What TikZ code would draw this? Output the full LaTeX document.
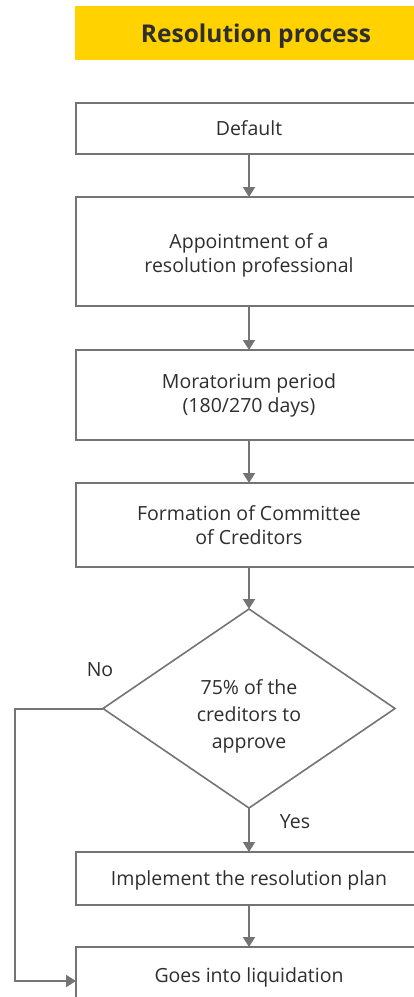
\documentclass[tikz,border=0pt]{standalone}
\usepackage{fontspec}
\setmainfont{Open Sans}
\usepackage{xcolor}
\definecolor{cYellow}{HTML}{FFD200}
\definecolor{cLine}{HTML}{747474}
\definecolor{cText}{HTML}{2E2E2E}
\usetikzlibrary{positioning,arrows.meta,shapes.geometric}
\tikzset{
  node-title/.style={fill=cYellow,minimum width=362pt,minimum height=54pt,
    text depth=0pt,font=\fontsize{24.5}{30}\selectfont\bfseries,text=cText},
  node-box/.style={draw=cLine,line width=1.6pt,fill=white,minimum width=346pt,
    outer sep=0pt,align=center,font=\fontsize{19.5}{24}\selectfont,text=cText},
  node-decision/.style={diamond,draw=cLine,line width=1.6pt,fill=white,
    minimum width=292pt,minimum height=199pt,inner sep=0pt,outer sep=0pt,
    align=center,font=\fontsize{19.5}{27}\selectfont,text=cText},
  node-label/.style={font=\fontsize{19.5}{22}\selectfont,text=cText},
  arrow/.style={-{Triangle[length=10pt,width=12pt]},line width=2pt,draw=cLine},
}
\begin{document}
\begin{tikzpicture}[x=1pt,y=1pt,node distance=43pt]
  \useasboundingbox (0,0) rectangle (414,-997);
  \clip (0,0) rectangle (414,-997);
  \node[node-title] (title) at (256,-33) {Resolution process};
  \node[node-box,minimum height=51pt,text depth=0pt] (default) at (249,-128.5) {Default};
  \node[node-box,minimum height=109pt,text height=47pt,below=of default] (appoint)
    {Appointment of a\\resolution professional};
  \node[node-box,minimum height=90pt,below=44pt of appoint] (morat)
    {Moratorium period\\(180/270 days)};
  \node[node-box,minimum height=84pt,below=of morat] (coc)
    {Formation of Committee\\of Creditors};
  \node[node-decision,text height=85pt,below=42pt of coc] (approve)
    {75\% of the\\creditors to\\approve};
  \node[node-box,minimum height=53pt,text depth=0pt,below=44pt of approve] (plan)
    {Implement the resolution plan};
  \node[node-box,minimum height=56pt,text depth=0pt,below=42pt of plan] (liq)
    {Goes into liquidation};
  \node[node-label] (no) at (100,-670) {No};
  \node[node-label] (yes) at (295,-822) {Yes};
  \draw[arrow] (default) -- (appoint);
  \draw[arrow] (appoint) -- (morat);
  \draw[arrow] (morat) -- (coc);
  \draw[arrow] (coc) -- (approve);
  \draw[arrow] (approve) -- (plan);
  \draw[arrow] (plan) -- (liq);
  \draw[arrow] (approve.west) -- ++(-88pt,0) |- ([yshift=-6pt]liq.west);
\end{tikzpicture}
\end{document}
